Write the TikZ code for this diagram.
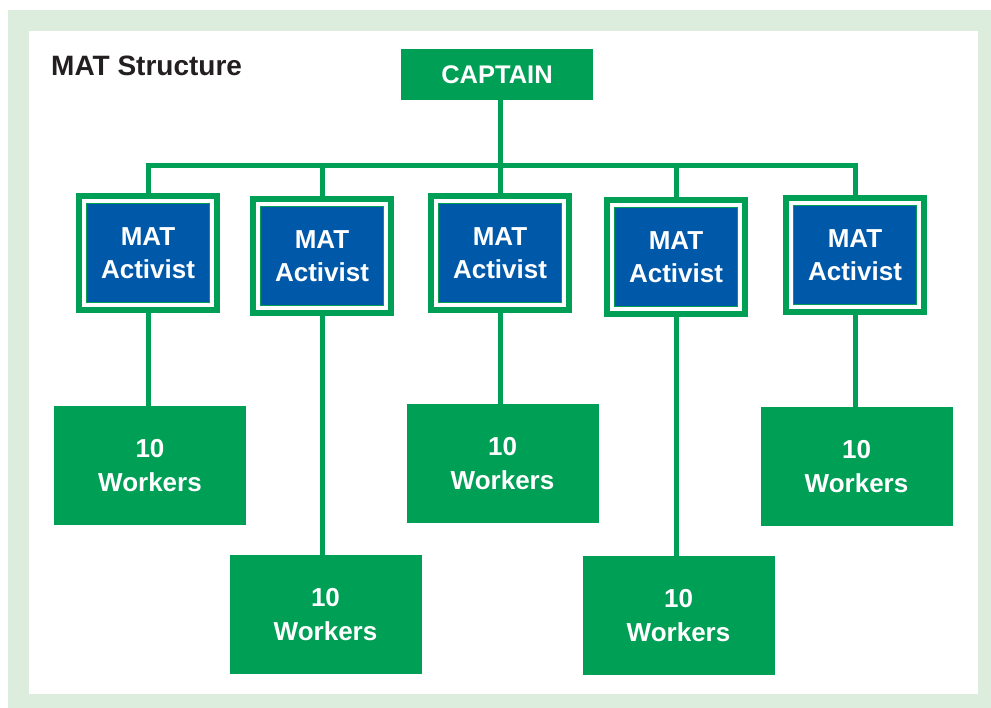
\documentclass[tikz,border=0pt]{standalone}
\usepackage{fontspec}
\setmainfont{Liberation Sans}
\usepackage{xcolor}
\usetikzlibrary{positioning,calc}
\definecolor{matgreen}{HTML}{009F56}
\definecolor{matblue}{HTML}{0058A8}
\definecolor{matbg}{HTML}{DCEDDE}
\definecolor{matdark}{HTML}{231F20}

\begin{document}
\begin{tikzpicture}[x=1pt,y=-1pt,
    link/.style={draw=matgreen,line width=5pt},
    capbox/.style={fill=matgreen,text=white,font=\bfseries\fontsize{25.5}{30}\selectfont,minimum width=192pt,minimum height=51pt,inner sep=0pt},
    actframe/.style={draw=matgreen,line width=6pt,fill=white,minimum width=138pt,minimum height=114pt,inner sep=0pt},
    actbox/.style={draw=matgreen,line width=1pt,fill=matblue,text=white,align=center,font=\bfseries\fontsize{26}{33}\selectfont,minimum width=123pt,minimum height=99pt,inner sep=0pt},
    workbox/.style={fill=matgreen,text=white,align=center,font=\bfseries\fontsize{26}{34}\selectfont,minimum width=192pt,minimum height=119pt,inner sep=0pt}]
    \useasboundingbox (0,0) rectangle (991,708);
    % background
    \fill[matbg] (8,10) rectangle (991,708);
    \fill[white] (29,31) rectangle (978,694);
    \node[anchor=base west,inner sep=0pt,text=matdark,font=\bfseries\fontsize{28}{34}\selectfont] (title) at (51,76) {MAT Structure};

    % captain
    \node[capbox] (captain) at (497,74.5) {CAPTAIN};
    \coordinate (bus) at (500,166);

    % activists
    \node[actframe] (act1f) at (148,253) {};
    \node[actbox] (act1) at (act1f) {MAT\\Activist};
    \node[actframe] (act2f) at (322,256) {};
    \node[actbox] (act2) at (act2f) {MAT\\Activist};
    \node[actframe] (act3f) at (500,253) {};
    \node[actbox] (act3) at (act3f) {MAT\\Activist};
    \node[actframe] (act4f) at (676,257) {};
    \node[actbox] (act4) at (act4f) {MAT\\Activist};
    \node[actframe] (act5f) at (855,255) {};
    \node[actbox] (act5) at (act5f) {MAT\\Activist};

    % workers
    \node[workbox] (work1) at (150,465.5) {10\\Workers};
    \node[workbox] (work2) at (325.5,614.5) {10\\Workers};
    \node[workbox] (work3) at (502.5,463.5) {10\\Workers};
    \node[workbox] (work4) at (678.5,615.5) {10\\Workers};
    \node[workbox] (work5) at (856.5,466.5) {10\\Workers};

    % lines
    \draw[link] (act1f.north) |- (bus) -| (act5f.north);
    \draw[link] (captain.south -| bus) -- (bus);
    \draw[link] (act2f.north) -- (act2f.north |- bus);
    \draw[link] (act3f.north) -- (act3f.north |- bus);
    \draw[link] (act4f.north) -- (act4f.north |- bus);
    \draw[link] (act1f.south) -- (act1f.south |- work1.north);
    \draw[link] (act2f.south) -- (act2f.south |- work2.north);
    \draw[link] (act3f.south) -- (act3f.south |- work3.north);
    \draw[link] (act4f.south) -- (act4f.south |- work4.north);
    \draw[link] (act5f.south) -- (act5f.south |- work5.north);
\end{tikzpicture}
\end{document}
